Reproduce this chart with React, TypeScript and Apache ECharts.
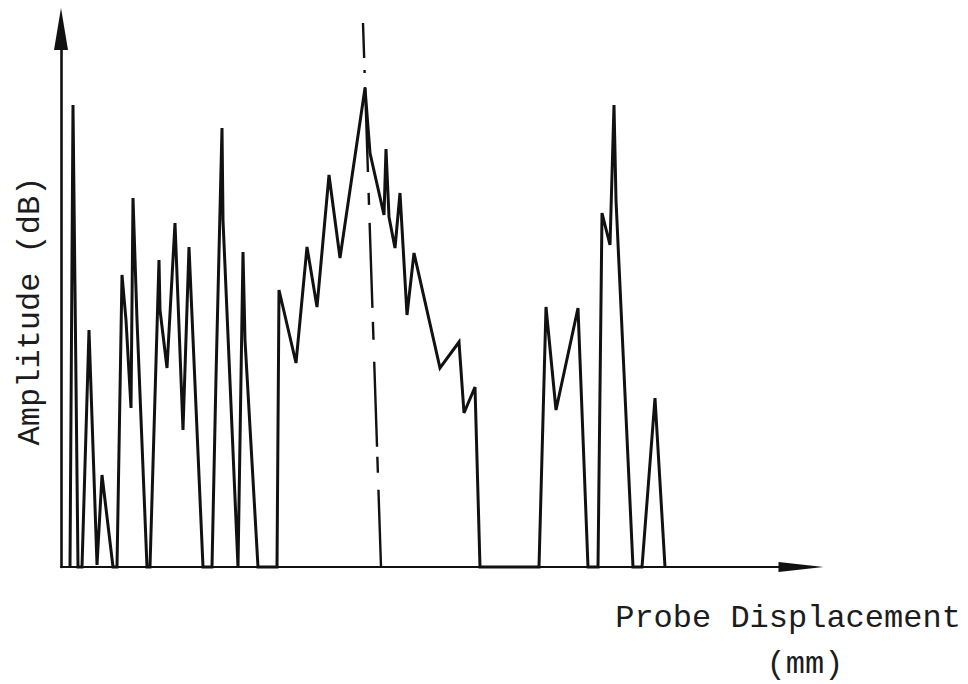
import React, { useEffect, useRef } from "react";
import * as echarts from "echarts";

// Probe displacement (arbitrary chart units) and amplitude (arbitrary dB units)
const displacement = [
  9, 12, 17, 21, 28, 36, 41, 52, 56, 61, 65, 70, 72, 76, 86, 89, 98, 99, 106, 114,
  122, 128, 142, 151, 155, 161, 162, 177, 182, 184, 197, 216, 218, 235, 246, 256, 268,
  279, 304, 309, 323, 325, 328, 334, 339, 346, 353, 379, 398, 403, 414, 419, 478, 485,
  495, 517, 527, 537, 541, 549, 553, 555, 572, 581, 594, 604,
];
const amplitude = [
  0, 462, 0, 0, 237, 2, 92, 0, 0, 292, 247, 159, 369, 247, 0, 0, 307, 257, 199, 344,
  137, 320, 0, 0, 190, 439, 347, 0, 315, 227, 0, 0, 277, 204, 320, 260, 392,
  309, 479, 414, 352, 418, 350, 319, 374, 252, 314, 199, 225, 154, 180, 0, 0, 260,
  157, 259, 0, 0, 354, 322, 462, 367, 0, 0, 169, 0,
];
// Centre line (dash-dot) through the main peak
const centreX = [302, 320];
const centreY = [544, 0];

const xLabel = "Probe Displacement";
const xUnit = "(mm)";
const yLabel = "Amplitude (dB)";

export default function App() {
  const ref = useRef<HTMLDivElement>(null);
  useEffect(() => {
    document.body.style.margin = "0";
    if (!ref.current) return;
    const chart = echarts.init(ref.current, null, { renderer: "svg" });
    const ink = "#111111";
    const font = "'Liberation Mono', 'DejaVu Sans Mono', monospace";
    chart.setOption({
      animation: false,
      backgroundColor: "#ffffff",
      grid: { left: 61, right: 167, top: 29, bottom: 117 },
      xAxis: {
        type: "value",
        min: 0,
        max: 740,
        axisLine: {
          show: true,
          symbol: ["none", "triangle"],
          symbolSize: [10, 45],
          lineStyle: { color: ink, width: 2.2 },
        },
        axisTick: { show: false },
        axisLabel: { show: false },
        splitLine: { show: false },
      },
      yAxis: {
        type: "value",
        min: 0,
        max: 538,
        axisLine: {
          show: true,
          symbol: ["none", "triangle"],
          symbolSize: [14, 42],
          lineStyle: { color: ink, width: 2.6 },
        },
        axisTick: { show: false },
        axisLabel: { show: false },
        splitLine: { show: false },
      },
      series: [
        {
          type: "line",
          symbol: "none",
          clip: false,
          data: displacement.map((x, i) => [x, amplitude[i]]),
          lineStyle: { color: ink, width: 3, join: "miter" },
          z: 3,
        },
        {
          type: "line",
          symbol: "none",
          clip: false,
          data: centreX.map((x, i) => [x, centreY[i]]),
          lineStyle: {
            color: ink,
            width: 2.4,
            type: [35, 12, 3, 14, 85, 21, 12, 18, 85, 14, 18, 22, 85, 10, 16, 17, 90],
          },
          z: 2,
        },
      ],
      graphic: [
        {
          type: "text",
          x: 788,
          y: 618,
          style: {
            text: xLabel,
            fontFamily: font,
            fontSize: 32,
            fill: "#1c1c1c",
            align: "center",
            verticalAlign: "middle",
          },
        },
        {
          type: "text",
          x: 805,
          y: 664,
          style: {
            text: xUnit,
            fontFamily: font,
            fontSize: 32,
            fill: "#1c1c1c",
            align: "center",
            verticalAlign: "middle",
          },
        },
        {
          type: "text",
          x: 30,
          y: 311,
          rotation: Math.PI / 2,
          style: {
            text: yLabel,
            fontFamily: font,
            fontSize: 32,
            fill: "#1c1c1c",
            align: "center",
            verticalAlign: "middle",
          },
        },
      ],
    });
    return () => chart.dispose();
  }, []);
  return <div ref={ref} style={{ width: 968, height: 684 }} />;
}
